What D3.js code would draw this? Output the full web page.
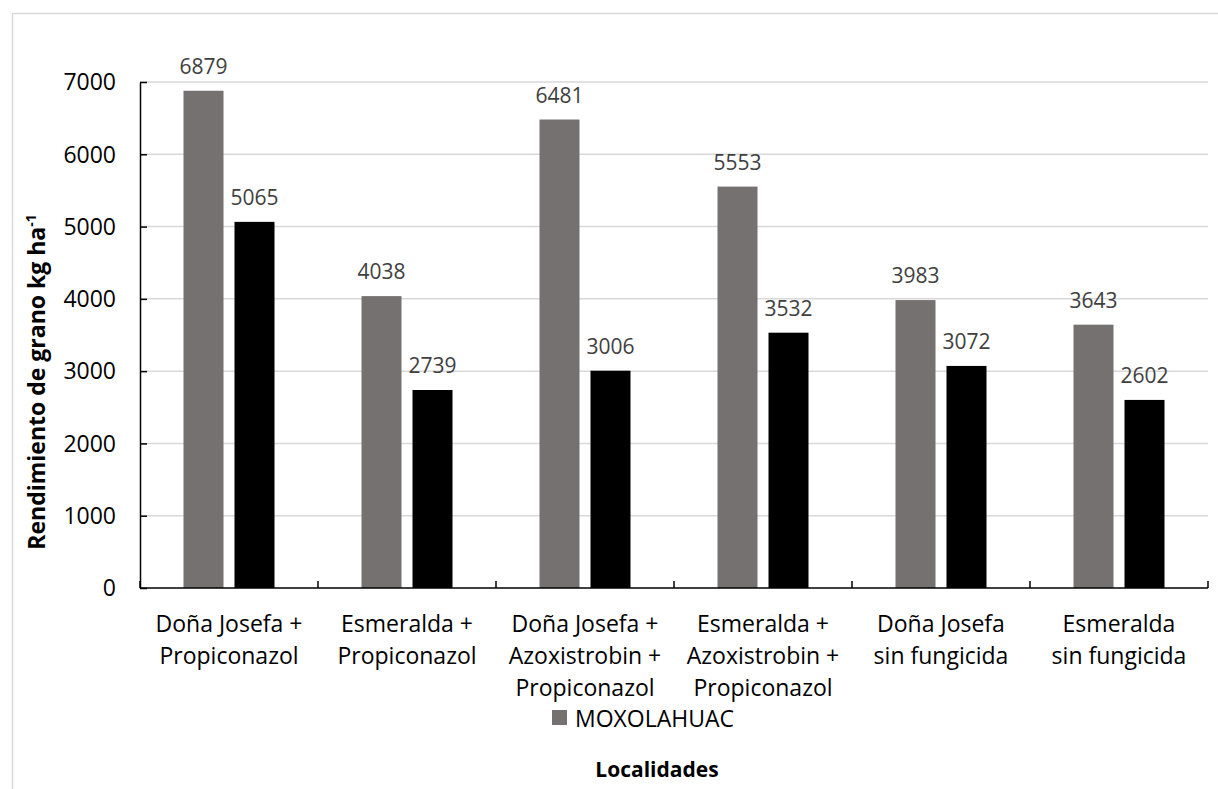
<!DOCTYPE html>
<html lang="es">
<head>
    <meta charset="UTF-8">
    <title>Rendimiento de grano</title>
    <style>
        body { margin: 0; background: #fff; }
        svg { display: block; }
        text { font-family: 'Open Sans', 'Noto Sans', sans-serif; }
        .grid line { stroke: #d9d9d9; stroke-width: 1.5px; }
        .axis path, .axis line { stroke: #000; stroke-width: 1.5px; }
        .axis text { fill: #000; font-size: 23px; }
        .val { fill: #404040; font-size: 21px; text-anchor: middle; }
    </style>
</head>
<body>
<svg id="chart" width="1218" height="789"></svg>
<script src="https://cdn.jsdelivr.net/npm/d3@7"></script>
<script>
// datos
var categories = [
    'Doña Josefa +\nPropiconazol',
    'Esmeralda +\nPropiconazol',
    'Doña Josefa +\nAzoxistrobin +\nPropiconazol',
    'Esmeralda +\nAzoxistrobin +\nPropiconazol',
    'Doña Josefa\nsin fungicida',
    'Esmeralda\nsin fungicida'
];
var moxolahuac = [6879, 4038, 6481, 5553, 3983, 3643];
var serie2 = [5065, 2739, 3006, 3532, 3072, 2602];
var yTicks = [0, 1000, 2000, 3000, 4000, 5000, 6000, 7000];
var seriesNames = ['MOXOLAHUAC', 'serie2'];
var colors = ['#767171', '#000000'];

// area del grafico
var pLeft = 140, pRight = 1208, pTop = 82, pBottom = 588;

var svg = d3.select('#chart');

// marco exterior
svg.append('rect')
    .attr('x', 12.5).attr('y', 13.5)
    .attr('width', 1240).attr('height', 820)
    .attr('fill', 'none')
    .attr('stroke', '#d9d9d9')
    .attr('stroke-width', 1.5);

var x = d3.scaleBand().domain(d3.range(categories.length)).range([pLeft, pRight]).padding(0);
var bw = x.bandwidth();
var xSub = d3.scaleBand().domain([0, 1])
    .range([bw / 2 - 45.5, bw / 2 + 45.5])
    .paddingInner(11 / 51);
var y = d3.scaleLinear().domain([0, 7000]).range([pBottom, pTop]);

// lineas de cuadricula
svg.append('g').attr('class', 'grid')
    .selectAll('line')
    .data(yTicks.filter(d => d > 0))
    .enter().append('line')
    .attr('x1', pLeft).attr('x2', pRight)
    .attr('y1', d => y(d)).attr('y2', d => y(d));

var data = [moxolahuac, serie2];

var groups = svg.append('g').selectAll('g')
    .data(categories)
    .enter().append('g')
    .attr('transform', (d, i) => 'translate(' + x(i) + ',0)');

groups.selectAll('rect')
    .data((d, i) => data.map((s, j) => ({ s: j, v: s[i] })))
    .enter().append('rect')
    .attr('x', d => xSub(d.s))
    .attr('width', xSub.bandwidth())
    .attr('y', d => y(d.v))
    .attr('height', d => y(0) - y(d.v))
    .attr('fill', d => colors[d.s]);

groups.selectAll('text.val')
    .data((d, i) => data.map((s, j) => ({ s: j, v: s[i] })))
    .enter().append('text')
    .attr('class', 'val')
    .attr('x', d => xSub(d.s) + xSub.bandwidth() / 2)
    .attr('y', d => y(d.v) - 17)
    .text(d => d.v);

// eje y
var yAxis = svg.append('g').attr('class', 'axis')
    .attr('transform', 'translate(' + pLeft + ',0)')
    .call(d3.axisLeft(y).tickValues(yTicks).tickFormat(d3.format('d'))
        .tickSizeInner(-7).tickSizeOuter(0).tickPadding(24));
yAxis.selectAll('text').attr('dy', '0.34em');

// eje x
var xAxis = svg.append('g').attr('class', 'axis')
    .attr('transform', 'translate(0,' + pBottom + ')');
xAxis.append('line').attr('x1', pLeft).attr('x2', pRight);
xAxis.selectAll('line.tk')
    .data(d3.range(categories.length + 1))
    .enter().append('line')
    .attr('x1', i => pLeft + i * bw).attr('x2', i => pLeft + i * bw)
    .attr('y1', 0).attr('y2', -7);

xAxis.selectAll('text.cat')
    .data(categories)
    .enter().append('text')
    .attr('text-anchor', 'middle')
    .attr('x', (d, i) => x(i) + bw / 2)
    .each(function (d) {
        var t = d3.select(this);
        d.split('\n').forEach((ln, k) => {
            t.append('tspan').attr('x', t.attr('x')).attr('y', 44 + k * 32).text(ln);
        });
    });

// titulo eje y
var yt = svg.append('text')
    .attr('transform', 'translate(45,382) rotate(-90)')
    .attr('text-anchor', 'middle')
    .attr('font-weight', 'bold')
    .attr('font-size', 23)
    .attr('fill', '#000');
yt.append('tspan').text('Rendimiento de grano kg ha');
yt.append('tspan').attr('dy', -9).attr('font-size', 14).text('-1');

// leyenda
svg.append('rect').attr('x', 552).attr('y', 710).attr('width', 15).attr('height', 15).attr('fill', colors[0]);
svg.append('text').attr('x', 575).attr('y', 727).attr('font-size', 23).attr('fill', '#000').text(seriesNames[0]);

// titulo eje x
svg.append('text')
    .attr('x', 657).attr('y', 777)
    .attr('text-anchor', 'middle')
    .attr('font-weight', 'bold')
    .attr('font-size', 21)
    .attr('fill', '#000')
    .text('Localidades');
</script>
</body>
</html>
